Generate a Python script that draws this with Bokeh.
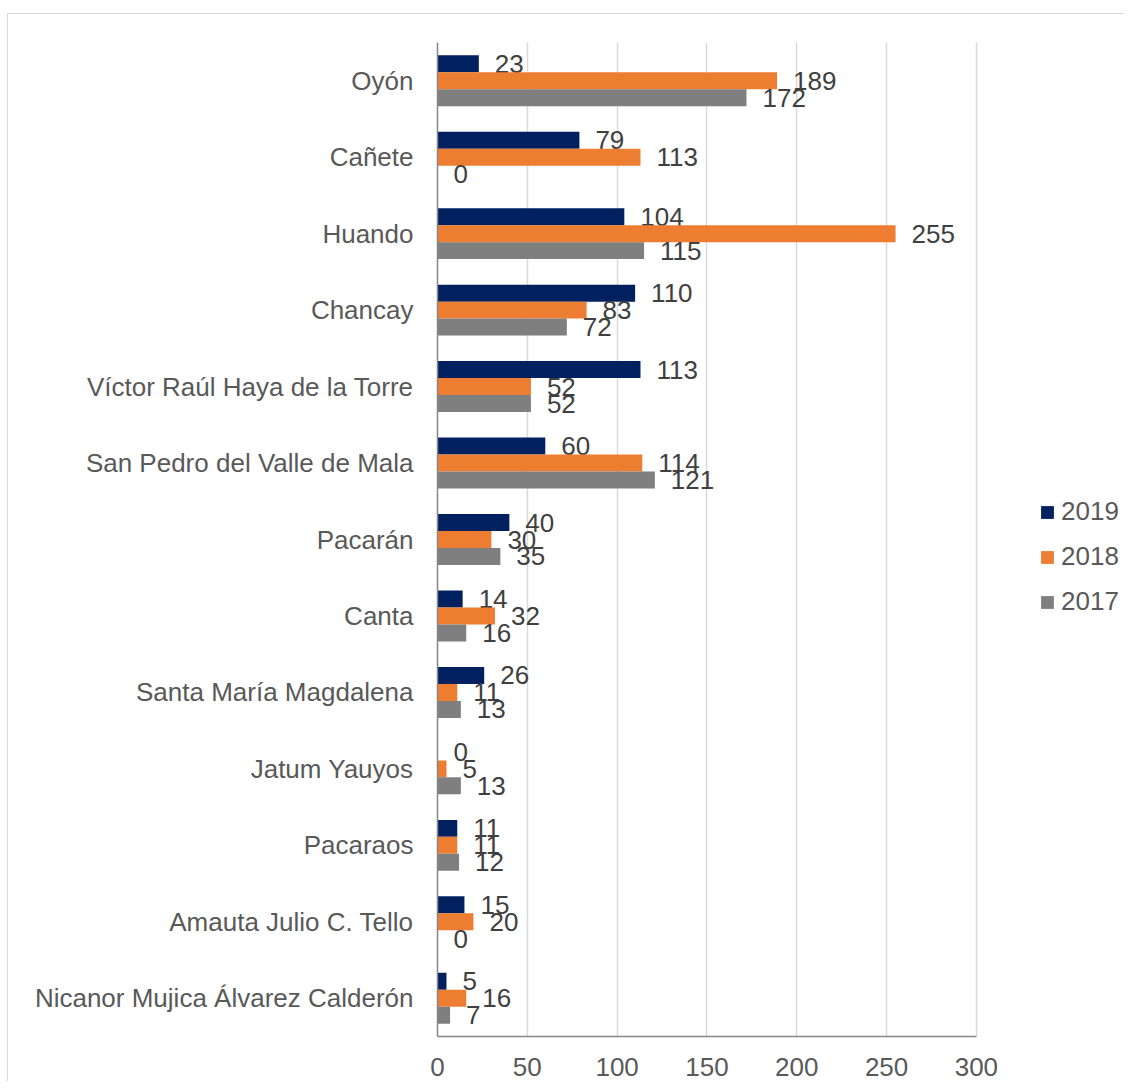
from bokeh.plotting import figure
from bokeh.models import ColumnDataSource, FactorRange, Legend, LegendItem, FixedTicker
from bokeh.transform import dodge
from bokeh.core.properties import value
from bokeh.embed import file_html
from bokeh.resources import INLINE

categories = ["Oyón", "Cañete", "Huando", "Chancay", "Víctor Raúl Haya de la Torre",
              "San Pedro del Valle de Mala", "Pacarán", "Canta", "Santa María Magdalena",
              "Jatum Yauyos", "Pacaraos", "Amauta Julio C. Tello",
              "Nicanor Mujica Álvarez Calderón"]
v2019 = [23, 79, 104, 110, 113, 60, 40, 14, 26, 0, 11, 15, 5]
v2018 = [189, 113, 255, 83, 52, 114, 30, 32, 11, 5, 11, 20, 16]
v2017 = [172, 0, 115, 72, 52, 121, 35, 16, 13, 13, 12, 0, 7]
series_names = ["2019", "2018", "2017"]
x_ticks = [0, 50, 100, 150, 200, 250, 300]

colors = ["#002060", "#ED7D31", "#7F7F7F"]
FONT = "Liberation Sans"
FS = "26px"
BAR_H = 0.222
X_MAX = 300
X_VIEW = 383  # frame extends right to host the legend

src = ColumnDataSource(dict(
    cat=categories,
    v2019=v2019, v2018=v2018, v2017=v2017,
    t2019=[str(v) for v in v2019],
    t2018=[str(v) for v in v2018],
    t2017=[str(v) for v in v2017],
))

p = figure(width=1117, height=1068, output_backend="svg", toolbar_location=None,
           y_range=FactorRange(factors=list(reversed(categories)), range_padding=0),
           x_range=(0, X_VIEW),
           min_border_left=429, min_border_right=0, min_border_top=28,
           min_border_bottom=46)
p.styles = {"margin-left": "7px", "margin-top": "13px",
            "border-top": "1px solid #D9D9D9", "border-left": "1px solid #D9D9D9"}

offsets = [BAR_H, 0.0, -BAR_H]
bar_renderers = []
for name, col, off in zip(series_names, colors, offsets):
    r = p.hbar(y=dodge("cat", off, range=p.y_range), right="v" + name, left=0,
               height=BAR_H, source=src, fill_color=col, line_color=None)
    bar_renderers.append(r)
    p.text(x="v" + name, y=dodge("cat", off, range=p.y_range), text="t" + name,
           source=src, x_offset=16, text_align="left", text_baseline="middle",
           text_font=value(FONT), text_font_size=FS, text_color="#404040")

legend = Legend(items=[LegendItem(label=n, renderers=[r]) for n, r in zip(series_names, bar_renderers)],
                location=(602, 418), orientation="vertical")
legend.padding = 0
legend.margin = 0
legend.border_line_color = None
legend.background_fill_alpha = 0
legend.glyph_width = 16
legend.glyph_height = 16
legend.label_height = 33
legend.spacing = 12
legend.label_standoff = 6
legend.label_text_font = FONT
legend.label_text_font_size = FS
legend.label_text_color = "#595959"
p.add_layout(legend)

p.outline_line_color = None
p.ygrid.grid_line_color = None
p.xgrid.ticker = FixedTicker(ticks=x_ticks)
p.xgrid.grid_line_color = "#D9D9D9"
p.xgrid.grid_line_width = 1.5

p.xaxis.ticker = FixedTicker(ticks=x_ticks)
p.xaxis.bounds = (0, X_MAX)
p.xaxis.major_tick_line_color = None
p.xaxis.minor_tick_line_color = None
p.xaxis.axis_line_color = "#868686"
p.xaxis.axis_line_width = 1.5
p.xaxis.major_label_standoff = 15
p.xaxis.major_label_text_font = FONT
p.xaxis.major_label_text_font_size = FS
p.xaxis.major_label_text_color = "#595959"

p.yaxis.major_tick_line_color = None
p.yaxis.minor_tick_line_color = None
p.yaxis.axis_line_color = "#868686"
p.yaxis.axis_line_width = 1.5
p.yaxis.major_label_standoff = 18
p.yaxis.major_label_text_font = FONT
p.yaxis.major_label_text_font_size = FS
p.yaxis.major_label_text_color = "#595959"

p.background_fill_color = "white"
p.border_fill_color = "white"

open("out.html", "w").write(file_html(p, INLINE))
